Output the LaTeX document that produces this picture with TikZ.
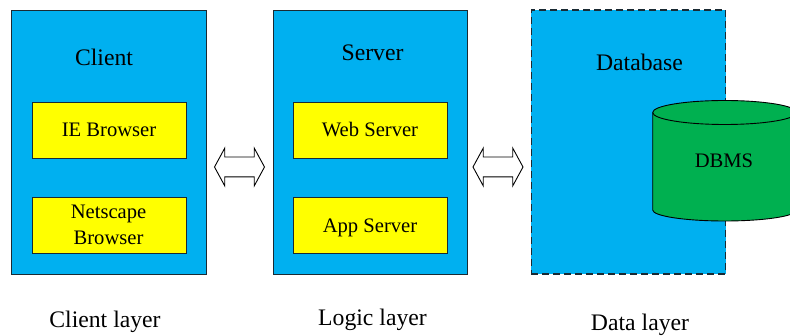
\documentclass[tikz,border=0pt]{standalone}
\usepackage{fontspec}
\setmainfont{Liberation Serif}
\usetikzlibrary{shapes.arrows}
\definecolor{panelblue}{HTML}{00B0F0}
\definecolor{dbgreen}{HTML}{00B050}
\definecolor{itemyellow}{HTML}{FFFF00}
\definecolor{edgegrey}{HTML}{1A2A33}
\tikzset{
  panel/.style={rectangle,draw=edgegrey,line width=0.9pt,fill=panelblue,minimum width=194.5pt,minimum height=264pt,inner sep=0pt,outer sep=0pt},
  dashpanel/.style={panel,line width=1.1pt,dash pattern=on 7pt off 4pt},
  itembox/.style={rectangle,draw=edgegrey,line width=0.9pt,fill=itemyellow,minimum width=154pt,minimum height=56pt,inner sep=0pt,outer sep=0pt},
  title/.style={inner sep=0pt,font=\fontsize{23.7}{28}\selectfont},
  small/.style={inner sep=0pt,font=\fontsize{20.6}{26}\selectfont},
  link/.style={double arrow,draw=black,line width=0.9pt,fill=white,inner sep=0pt,outer sep=0pt,minimum height=50pt,minimum width=37pt,text height=19pt,text width=30pt,double arrow head extend=9pt,double arrow head indent=0pt,double arrow tip angle=123},
}
\begin{document}
\begin{tikzpicture}[x=1pt,y=-1pt]
\useasboundingbox (0,0) rectangle (790,336);
\clip (0,0) rectangle (790,336);
\node[panel] (client) at (108.75,142) {};
\node[panel] (server) at (370.25,142) {};
\node[dashpanel] (database) at (628.5,142) {};
\node[title] (clientT) at (104,57) {Client};
\node[title] (serverT) at (372.5,53) {Server};
\node[title] (databaseT) at (639.5,62) {Database};
\node[itembox] (ie) at (109,130) {};
\node[small] (ieT) at (109,130) {IE Browser};
\node[itembox] (netscape) at (109,225) {};
\node[small] (netscapeA) at (108.5,214) {Netscape};
\node[small] (netscapeB) at (108.5,238) {Browser};
\node[itembox] (web) at (370,130) {};
\node[small] (webT) at (370,130) {Web Server};
\node[itembox] (app) at (370,225) {};
\node[small] (appT) at (370,228) {App Server};
\node[link] (arrowL) at (239.5,167) {};
\node[link] (arrowR) at (498,167) {};
\filldraw[fill=dbgreen,draw=black,line width=0.9pt]
  (652.7,112.5) -- (652.7,210) arc[start angle=180,end angle=0,x radius=72,y radius=11]
  -- (796.7,112.5) arc[start angle=0,end angle=-180,x radius=72,y radius=12] -- cycle;
\draw[line width=0.9pt,black] (652.7,112.5) arc[start angle=180,end angle=0,x radius=72,y radius=12];
\node[small] (dbms) at (724,161) {DBMS};
\node[title] (clientL) at (105,322) {Client layer};
\node[title] (logicL) at (372.5,320) {Logic layer};
\node[title] (dataL) at (640,325.3) {Data layer};
\end{tikzpicture}
\end{document}
